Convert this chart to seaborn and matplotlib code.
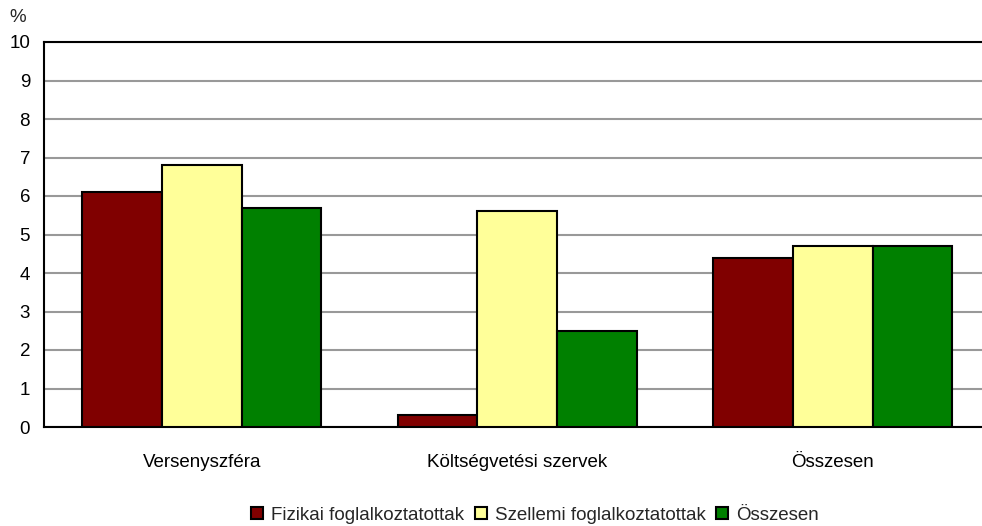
import numpy as np
import pandas as pd
import matplotlib.pyplot as plt
import seaborn as sns

# --- Data ---
categories = ['Versenyszféra', 'Költségvetési szervek', 'Összesen']
series = ['Fizikai foglalkoztatottak', 'Szellemi foglalkoztatottak', 'Összesen']
fizikai = [6.1, 0.3, 4.4]
szellemi = [6.8, 5.6, 4.7]
osszesen = [5.7, 2.5, 4.7]
colors = ['#800000', '#FFFF99', '#008000']

rows = []
for name, vals in zip(series, [fizikai, szellemi, osszesen]):
    for cat, v in zip(categories, vals):
        rows.append({'kategoria': cat, 'sorozat': name, 'ertek': v})
df = pd.DataFrame(rows)

# --- Plot ---
sns.set_style('white')
plt.rcParams['font.family'] = ['Liberation Sans', 'DejaVu Sans']
fs = 13.5

fig = plt.figure(figsize=(9.82, 5.26), dpi=100)
ax = fig.add_axes([44 / 982, 1 - 427 / 526, (990.5 - 44) / 982, (427 - 42) / 526])

sns.barplot(data=df, x='kategoria', y='ertek', hue='sorozat', order=categories,
            hue_order=series, palette=colors, width=0.757, edgecolor='black',
            linewidth=1.5, saturation=1, ax=ax, zorder=3)

ax.set_ylim(0, 10)
ax.set_xlim(-0.5, 2.5)
ax.set_yticks(range(0, 11))
ax.yaxis.grid(True, color='#999999', linewidth=1.5, zorder=0)
ax.set_axisbelow(True)
ax.set_xlabel('')
ax.set_ylabel('')
ax.tick_params(axis='both', length=0, labelsize=fs, colors='black')
ax.tick_params(axis='x', pad=19.5)
ax.tick_params(axis='y', pad=10)
for side in ['left', 'top', 'bottom']:
    ax.spines[side].set_color('black')
    ax.spines[side].set_linewidth(1.5)
ax.spines['right'].set_visible(False)

fig.text(9 / 982, 1 - 18 / 526, '%', fontsize=fs, va='center', ha='left')

handles, labels = ax.get_legend_handles_labels()
ax.legend_.remove()
fig.legend(handles, labels, loc='center', bbox_to_anchor=(0.545, 1 - 515 / 526),
           ncol=3, frameon=False, fontsize=fs, handlelength=0.64, handleheight=0.64,
           handletextpad=0.43, columnspacing=0.55, borderaxespad=0)

fig.savefig('out.png', dpi=100)
